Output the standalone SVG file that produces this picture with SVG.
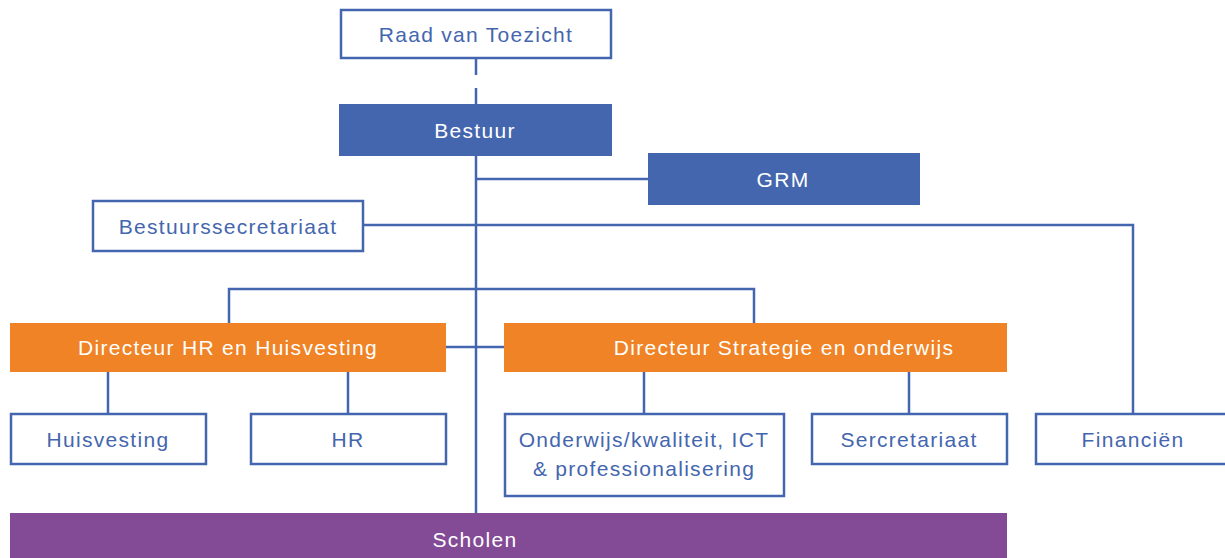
<svg xmlns="http://www.w3.org/2000/svg" width="1225" height="558" viewBox="0 0 1225 558">
<style>
text{font-family:"Liberation Sans",Arial,sans-serif;font-size:21px;letter-spacing:1.3px;text-anchor:middle}
.ol{fill:#fff;stroke:#4466AE;stroke-width:2.5}
.bl{fill:#4466AE}
.or{fill:#EF8325}
.pu{fill:#834A96}
.tb{fill:#4466AE}
.tw{fill:#fff}
.c{fill:none;stroke:#4466AE;stroke-width:2.5}
</style>
<rect width="1225" height="558" fill="#fff"/>
<g id="connectors">
<path class="c" d="M476 59V75M476 88V104" />
<path class="c" d="M476 156V513"/>
<path class="c" d="M476 179H648"/>
<path class="c" d="M363 225H1133V414"/>
<path class="c" d="M229 323V289H754V323"/>
<path class="c" d="M446 347H504"/>
<path class="c" d="M108 371V414M348 371V414M644 371V414M909 371V414"/>
</g>
<g id="raad"><rect class="ol" x="341" y="10" width="270" height="48"/><text class="tb" x="476" y="42">Raad van Toezicht</text></g>
<g id="bestuur"><rect class="bl" x="339" y="104" width="273" height="52"/><text class="tw" x="475" y="138">Bestuur</text></g>
<g id="grm"><rect class="bl" x="648" y="153" width="272" height="52"/><text class="tw" x="783" y="187">GRM</text></g>
<g id="bestuurssecretariaat"><rect class="ol" x="93" y="201" width="270" height="50"/><text class="tb" x="228" y="234">Bestuurssecretariaat</text></g>
<g id="dir-hr"><rect class="or" x="10" y="323" width="436" height="49"/><text class="tw" x="228" y="355">Directeur HR en Huisvesting</text></g>
<g id="dir-strat"><rect class="or" x="504" y="323" width="503" height="49"/><text class="tw" x="784" y="355">Directeur Strategie en onderwijs</text></g>
<g id="huisvesting"><rect class="ol" x="11" y="414" width="195" height="50"/><text class="tb" x="108" y="447">Huisvesting</text></g>
<g id="hr"><rect class="ol" x="251" y="414" width="195" height="50"/><text class="tb" x="348" y="447">HR</text></g>
<g id="onderwijs"><rect class="ol" x="505" y="414" width="279" height="82"/><text class="tb" x="644" y="447">Onderwijs/kwaliteit, ICT</text><text class="tb" x="644" y="476">&amp; professionalisering</text></g>
<g id="sercretariaat"><rect class="ol" x="812" y="414" width="195" height="50"/><text class="tb" x="909" y="447">Sercretariaat</text></g>
<g id="financien"><rect class="ol" x="1036" y="414" width="195" height="50"/><text class="tb" x="1133" y="447">Financiën</text></g>
<g id="scholen"><rect class="pu" x="10" y="513" width="997" height="50"/><text class="tw" x="475" y="547">Scholen</text></g>
</svg>
